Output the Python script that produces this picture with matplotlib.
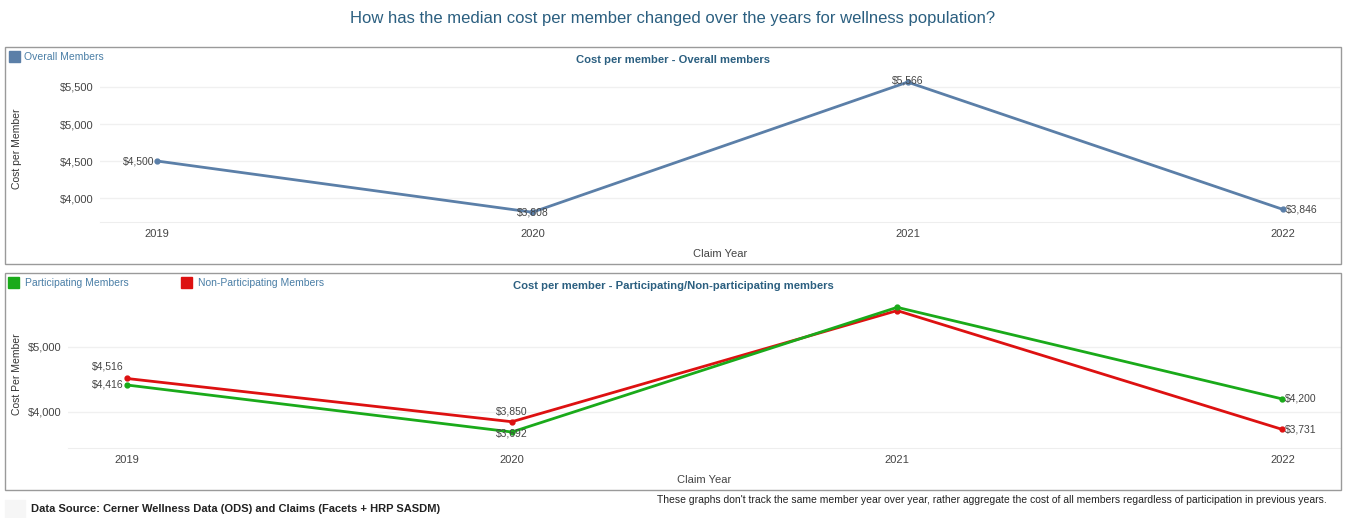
import matplotlib
matplotlib.use("Agg")
from matplotlib import pyplot as plt
from matplotlib.patches import Rectangle
from matplotlib.ticker import FuncFormatter

plt.rcParams['font.family'] = ['Liberation Sans', 'DejaVu Sans']

years = ['2019', '2020', '2021', '2022']
overall = [4500, 3808, 5566, 3846]
participating = [4416, 3692, 5610, 4200]
non_participating = [4516, 3850, 5560, 3731]

blue = '#5b7fa8'
green = '#1aaa1a'
red = '#dd1111'
tick_color = '#444444'
title_color = '#2b5f80'
legend_color = '#4a7ea6'

W, H = 1347, 518
fig = plt.figure(figsize=(W / 100, H / 100), dpi=100)


def px_axes(left, top, right, bottom):
    return fig.add_axes([left / W, 1 - bottom / H, (right - left) / W, (bottom - top) / H])


def px_text(x, y, s, **kw):
    fig.text(x / W, 1 - y / H, s, **kw)


def box(left, top, right, bottom):
    fig.patches.append(Rectangle((left / W, 1 - bottom / H), (right - left) / W, (bottom - top) / H,
                                 transform=fig.transFigure, fill=False, edgecolor='#9a9a9a', lw=1))


def square(x, y, color):
    fig.patches.append(Rectangle((x / W, 1 - (y + 11) / H), 11 / W, 11 / H,
                                 transform=fig.transFigure, color=color))


money = FuncFormatter(lambda v, p: f"${v:,.0f}")


def style(ax, ylabel):
    for s in ['top', 'right', 'left']:
        ax.spines[s].set_visible(False)
    ax.spines['bottom'].set_color('#eeeeee')
    ax.grid(axis='y', color='#f0f0f0', lw=1)
    ax.set_axisbelow(True)
    ax.tick_params(length=0, labelsize=8, colors=tick_color, pad=5)
    ax.yaxis.set_major_formatter(money)
    ax.set_xlim(-0.152, 3.152)
    ax.set_xlabel('Claim Year', fontsize=8, color=tick_color, labelpad=7)
    ax.set_ylabel(ylabel, fontsize=7.5, color='#333333')


def label(ax, x, y, v, dx, dy, ha, va):
    ax.annotate(f"${v:,.0f}", (x, y), xytext=(dx, dy), textcoords='offset points',
                ha=ha, va=va, fontsize=7.5, color='#444444')


px_text(673, 18, 'How has the median cost per member changed over the years for wellness population?',
        ha='center', va='center', fontsize=12, color=title_color)

# top panel
box(5, 47, 1341, 264)
ax1 = px_axes(100, 75, 1340, 222)
ax1.plot(range(4), overall, color=blue, lw=2, marker='o', ms=3.5)
ax1.set_ylim(3676, 5662)
ax1.set_yticks([4000, 4500, 5000, 5500])
ax1.set_xticks(range(4), years)
style(ax1, 'Cost per Member')
ax1.yaxis.set_label_coords(-0.063, 0.5)
label(ax1, 0, overall[0], overall[0], -2, 0, 'right', 'center')
label(ax1, 1, overall[1], overall[1], 0, 0, 'center', 'center')
label(ax1, 2, overall[2], overall[2], 0, 1, 'center', 'center')
label(ax1, 3, overall[3], overall[3], 2, 0, 'left', 'center')
px_text(673, 60, 'Cost per member - Overall members', ha='center', va='center',
        fontsize=8.1, fontweight='bold', color=title_color)
square(9, 51, blue)
px_text(24, 57, 'Overall Members', ha='left', va='center', fontsize=7.5, color=legend_color)

# bottom panel
box(5, 273, 1341, 490)
ax2 = px_axes(68, 300, 1341, 448)
ax2.plot(range(4), non_participating, color=red, lw=2, marker='o', ms=3.5)
ax2.plot(range(4), participating, color=green, lw=2, marker='o', ms=3.5)
ax2.set_ylim(3446, 5723)
ax2.set_yticks([4000, 5000])
ax2.set_xticks(range(4), years)
style(ax2, 'Cost Per Member')
ax2.yaxis.set_label_coords(-0.036, 0.5)
label(ax2, 0, non_participating[0], non_participating[0], -2, 5, 'right', 'bottom')
label(ax2, 0, participating[0], participating[0], -2, 0, 'right', 'center')
label(ax2, 1, non_participating[1], non_participating[1], 0, 4, 'center', 'bottom')
label(ax2, 1, participating[1], participating[1], 0, -1, 'center', 'center')
label(ax2, 3, participating[3], participating[3], 2, 0, 'left', 'center')
label(ax2, 3, non_participating[3], non_participating[3], 2, 0, 'left', 'center')
px_text(673, 286, 'Cost per member - Participating/Non-participating members', ha='center', va='center',
        fontsize=8.1, fontweight='bold', color=title_color)
square(8, 277, green)
px_text(25, 283, 'Participating Members', ha='left', va='center', fontsize=7.5, color=legend_color)
square(181, 277, red)
px_text(198, 283, 'Non-Participating Members', ha='left', va='center', fontsize=7.5, color=legend_color)

# footer
fig.patches.append(Rectangle((5 / W, 0), 20 / W, 18 / H, transform=fig.transFigure, color='#f6f6f6'))
px_text(31, 509, 'Data Source: Cerner Wellness Data (ODS) and Claims (Facets + HRP SASDM)',
        ha='left', va='center', fontsize=8, fontweight='bold', color='#222222')
px_text(1327, 500, "These graphs don't track the same member year over year, rather aggregate the cost of all members regardless of participation in previous years.",
        ha='right', va='center', fontsize=7.5, color='#222222')

fig.savefig('out.png', dpi=100)
